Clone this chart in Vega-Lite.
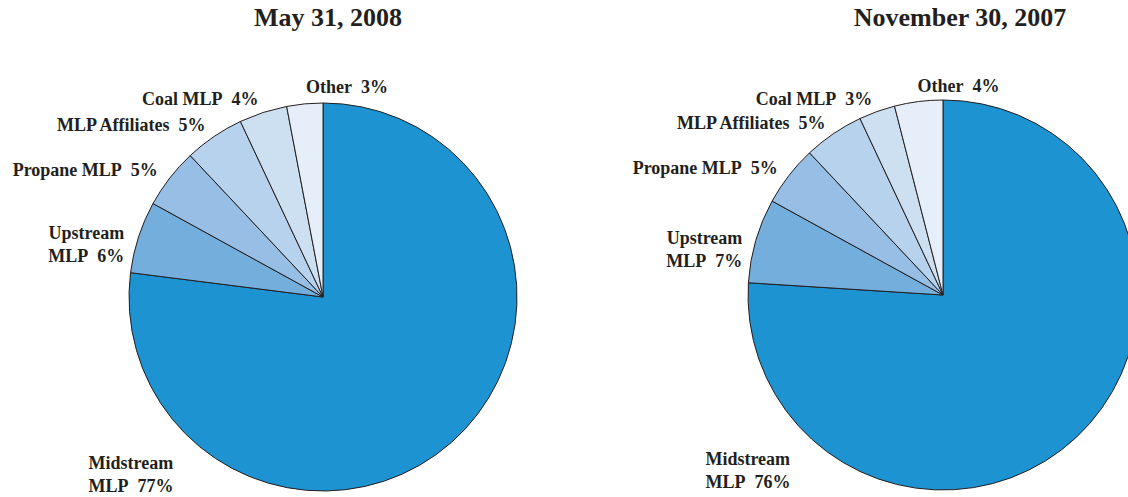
{
  "$schema": "https://vega.github.io/schema/vega-lite/v6.json",
  "width": 1128,
  "height": 497,
  "autosize": {"type": "none"},
  "padding": 0,
  "background": "white",
  "config": {"view": {"stroke": null}},
  "data": {"values": [
    {"date": "May 31, 2008", "category": "Midstream MLP", "value": 77, "order": 1, "label": "Midstream\nMLP\u00a0 77%"},
    {"date": "May 31, 2008", "category": "Upstream MLP", "value": 6, "order": 2, "label": "Upstream\nMLP\u00a0 6%"},
    {"date": "May 31, 2008", "category": "Propane MLP", "value": 5, "order": 3, "label": "Propane MLP\u00a0 5%"},
    {"date": "May 31, 2008", "category": "MLP Affiliates", "value": 5, "order": 4, "label": "MLP Affiliates\u00a0 5%"},
    {"date": "May 31, 2008", "category": "Coal MLP", "value": 4, "order": 5, "label": "Coal MLP\u00a0 4%"},
    {"date": "May 31, 2008", "category": "Other", "value": 3, "order": 6, "label": "Other\u00a0 3%"},
    {"date": "November 30, 2007", "category": "Midstream MLP", "value": 76, "order": 1, "label": "Midstream\nMLP\u00a0 76%"},
    {"date": "November 30, 2007", "category": "Upstream MLP", "value": 7, "order": 2, "label": "Upstream\nMLP\u00a0 7%"},
    {"date": "November 30, 2007", "category": "Propane MLP", "value": 5, "order": 3, "label": "Propane MLP\u00a0 5%"},
    {"date": "November 30, 2007", "category": "MLP Affiliates", "value": 5, "order": 4, "label": "MLP Affiliates\u00a0 5%"},
    {"date": "November 30, 2007", "category": "Coal MLP", "value": 3, "order": 5, "label": "Coal MLP\u00a0 3%"},
    {"date": "November 30, 2007", "category": "Other", "value": 4, "order": 6, "label": "Other\u00a0 4%"}
  ]},
  "resolve": {"scale": {"x": "independent", "y": "independent"}},
  "layer": [
    {
      "transform": [{"filter": "datum.date == 'May 31, 2008'"}],
      "encoding": {
        "theta": {"field": "value", "type": "quantitative", "stack": true},
        "order": {"field": "order", "type": "quantitative"},
        "x": {"field": "date", "type": "nominal", "axis": null, "scale": {"type": "point", "domain": ["May 31, 2008", "November 30, 2007"], "range": [323, 943], "padding": 0}},
        "y": {"field": "date", "type": "nominal", "axis": null, "scale": {"type": "point", "domain": ["May 31, 2008", "November 30, 2007"], "range": [297, 295], "padding": 0}}
      },
      "layer": [
        {
          "mark": {"type": "arc", "outerRadius": 194, "stroke": "#231f20", "strokeWidth": 1},
          "encoding": {"color": {"field": "category", "type": "nominal", "legend": null, "scale": {"domain": ["Midstream MLP", "Upstream MLP", "Propane MLP", "MLP Affiliates", "Coal MLP", "Other"], "range": ["#1e93d2", "#74aedc", "#97bfe6", "#b7d2ec", "#cde0f1", "#e6eff9"]}}}
        },
        {
          "mark": {"type": "text", "radius": 209, "dy": 2, "align": "right", "baseline": "middle", "font": "Liberation Serif", "fontWeight": "bold", "fontSize": 18, "lineHeight": 23, "lineBreak": "\n", "color": "#231f20"},
          "encoding": {"text": {"condition": {"test": "indexof(['Upstream MLP','Propane MLP','MLP Affiliates','Coal MLP'], datum.category) >= 0", "field": "label", "type": "nominal"}, "value": ""}}
        },
        {
          "mark": {"type": "text", "radius": 212, "dx": 3, "dy": 2, "align": "left", "baseline": "middle", "font": "Liberation Serif", "fontWeight": "bold", "fontSize": 18, "lineHeight": 23, "lineBreak": "\n", "color": "#231f20"},
          "encoding": {"text": {"condition": {"test": "datum.category == 'Other'", "field": "label", "type": "nominal"}, "value": ""}}
        },
        {
          "mark": {"type": "text", "radius": 288, "align": "left", "baseline": "middle", "font": "Liberation Serif", "fontWeight": "bold", "fontSize": 18, "lineHeight": 23, "lineBreak": "\n", "color": "#231f20"},
          "encoding": {
            "theta": {"field": "value", "type": "quantitative", "stack": true, "bandPosition": 0.846},
            "text": {"condition": {"test": "datum.category == 'Midstream MLP'", "field": "label", "type": "nominal"}, "value": ""}
          }
        }
      ]
    },
    {
      "transform": [{"filter": "datum.date == 'November 30, 2007'"}],
      "encoding": {
        "theta": {"field": "value", "type": "quantitative", "stack": true},
        "order": {"field": "order", "type": "quantitative"},
        "x": {"field": "date", "type": "nominal", "axis": null, "scale": {"type": "point", "domain": ["May 31, 2008", "November 30, 2007"], "range": [323, 943], "padding": 0}},
        "y": {"field": "date", "type": "nominal", "axis": null, "scale": {"type": "point", "domain": ["May 31, 2008", "November 30, 2007"], "range": [297, 295], "padding": 0}}
      },
      "layer": [
        {
          "mark": {"type": "arc", "outerRadius": 195, "stroke": "#231f20", "strokeWidth": 1},
          "encoding": {"color": {"field": "category", "type": "nominal", "legend": null, "scale": {"domain": ["Midstream MLP", "Upstream MLP", "Propane MLP", "MLP Affiliates", "Coal MLP", "Other"], "range": ["#1e93d2", "#74aedc", "#97bfe6", "#b7d2ec", "#cde0f1", "#e6eff9"]}}}
        },
        {
          "mark": {"type": "text", "radius": 209, "dy": 2, "align": "right", "baseline": "middle", "font": "Liberation Serif", "fontWeight": "bold", "fontSize": 18, "lineHeight": 23, "lineBreak": "\n", "color": "#231f20"},
          "encoding": {"text": {"condition": {"test": "indexof(['Upstream MLP','Propane MLP','MLP Affiliates','Coal MLP'], datum.category) >= 0", "field": "label", "type": "nominal"}, "value": ""}}
        },
        {
          "mark": {"type": "text", "radius": 212, "dx": 1, "dy": 2, "align": "left", "baseline": "middle", "font": "Liberation Serif", "fontWeight": "bold", "fontSize": 18, "lineHeight": 23, "lineBreak": "\n", "color": "#231f20"},
          "encoding": {"text": {"condition": {"test": "datum.category == 'Other'", "field": "label", "type": "nominal"}, "value": ""}}
        },
        {
          "mark": {"type": "text", "radius": 289, "align": "left", "baseline": "middle", "font": "Liberation Serif", "fontWeight": "bold", "fontSize": 18, "lineHeight": 23, "lineBreak": "\n", "color": "#231f20"},
          "encoding": {
            "theta": {"field": "value", "type": "quantitative", "stack": true, "bandPosition": 0.86},
            "text": {"condition": {"test": "datum.category == 'Midstream MLP'", "field": "label", "type": "nominal"}, "value": ""}
          }
        }
      ]
    },
    {
      "transform": [{"filter": "datum.category == 'Midstream MLP'"}],
      "mark": {"type": "text", "align": "center", "baseline": "middle", "font": "Liberation Serif", "fontWeight": "bold", "fontSize": 26, "color": "#231f20"},
      "encoding": {
        "text": {"field": "date", "type": "nominal"},
        "x": {"field": "date", "type": "nominal", "axis": null, "scale": {"type": "point", "domain": ["May 31, 2008", "November 30, 2007"], "range": [328, 960], "padding": 0}},
        "y": {"field": "date", "type": "nominal", "axis": null, "scale": {"type": "point", "domain": ["May 31, 2008", "November 30, 2007"], "range": [18, 18], "padding": 0}}
      }
    }
  ]
}
